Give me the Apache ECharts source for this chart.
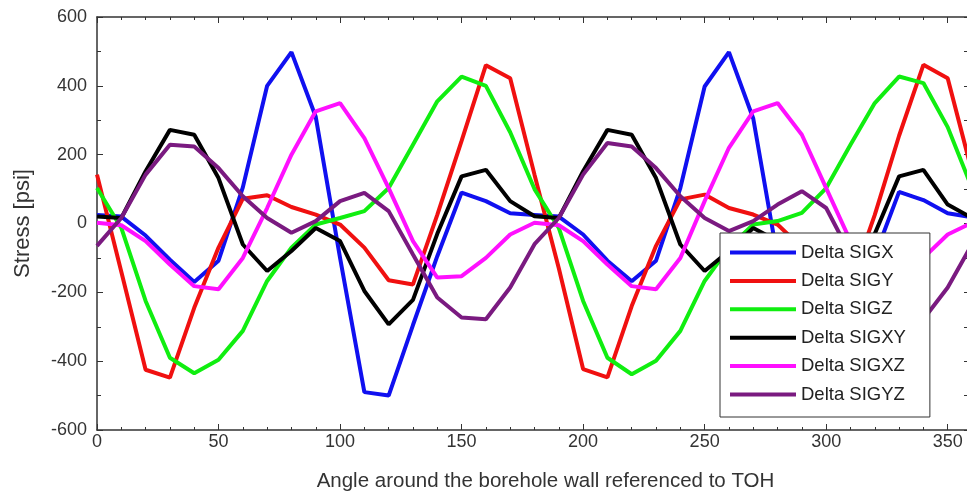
<!DOCTYPE html>
<html>
<head>
<meta charset="utf-8">
<script src="https://cdn.jsdelivr.net/npm/echarts@6/dist/echarts.min.js"></script>
<style>
	html, body { margin: 0; padding: 0; background: #fff; overflow: hidden; }
	/* a little wider than the window: the original plot is cut off at its right edge */
	#chart-1 { width: 975px; height: 497px; }
</style>
</head>
<body>
<div id="chart-1"></div>
<script>
	var angles = [0, 10, 20, 30, 40, 50, 60, 70, 80, 90, 100, 110, 120, 130, 140, 150, 160, 170, 180,
		190, 200, 210, 220, 230, 240, 250, 260, 270, 280, 290, 300, 310, 320, 330, 340, 350, 360];

	var sigx = [25, 20, -35, -105, -170, -108, 105, 400, 498, 310, -100, -490, -500, -295, -95, 90, 65, 30, 25,
		20, -32, -108, -168, -108, 103, 398, 498, 305, -100, -490, -500, -295, -95, 92, 68, 30, 18];
	var sigy = [142, -140, -425, -448, -245, -70, 72, 82, 48, 26, -3, -70, -165, -177, 25, 240, 460, 422, 142,
		-130, -423, -447, -240, -65, 70, 84, 45, 26, -3, -70, -165, -177, 25, 255, 461, 422, 150];
	var sigz = [103, -13, -225, -390, -435, -396, -312, -167, -70, -3, 16, 36, 103, 229, 355, 427, 400, 265, 100,
		-13, -225, -390, -438, -399, -312, -167, -70, -3, 7, 31, 103, 229, 350, 427, 408, 280, 103];
	var sigxy = [20, 16, 152, 272, 258, 132, -61, -138, -80, -13, -51, -196, -293, -222, -30, 137, 156, 65, 21,
		16, 152, 272, 258, 132, -61, -138, -80, -13, -51, -196, -293, -222, -30, 137, 156, 55, 16];
	var sigxz = [2, -5, -51, -119, -182, -191, -100, 45, 200, 326, 350, 248, 103, -51, -157, -153, -100, -32, 2,
		-5, -51, -119, -182, -191, -100, 65, 220, 326, 350, 258, 103, -51, -157, -153, -100, -32, 2];
	var sigyz = [-65, 16, 142, 229, 224, 161, 79, 16, -27, 7, 65, 89, 36, -90, -215, -273, -278, -186, -60,
		16, 142, 234, 224, 161, 79, 16, -22, 7, 55, 94, 45, -90, -215, -273, -278, -186, -60];

	var names = ['Delta SIGX', 'Delta SIGY', 'Delta SIGZ', 'Delta SIGXY', 'Delta SIGXZ', 'Delta SIGYZ'];
	var colors = ['#1010f0', '#f01010', '#10ee10', '#000000', '#ff10ff', '#7a1a80'];
	var values = [sigx, sigy, sigz, sigxy, sigxz, sigyz];

	var font = 'Liberation Sans';

	function pairs(vals) {
		return angles.map(function(a, i) { return [a, vals[i]]; });
	}

	var series = names.map(function(n, k) {
		return {
			name: n,
			type: 'line',
			data: pairs(values[k]),
			showSymbol: false,
			animation: false,
			lineStyle: { width: 4, color: colors[k] },
			itemStyle: { color: colors[k] }
		};
	});

	var frameLine = { show: true, onZero: false, lineStyle: { color: '#333', width: 1.5 } };

	var myChart = echarts.init(document.getElementById('chart-1'));
	var option = {
		backgroundColor: '#fff',
		animation: false,
		grid: { left: 97, right: 3, top: 17, bottom: 66 },
		legend: {
			orient: 'vertical',
			left: 720,
			top: 233,
			data: names,
			icon: 'rect',
			itemWidth: 66,
			itemHeight: 4,
			itemGap: 9.4,
			padding: [10, 24, 13, 10],
			backgroundColor: '#fff',
			borderColor: '#333',
			borderWidth: 1,
			borderRadius: 0,
			textStyle: { fontFamily: font, fontSize: 18.5, color: '#222', lineHeight: 19 }
		},
		xAxis: [{
			type: 'value',
			min: 0,
			max: 360,
			interval: 50,
			name: 'Angle around the borehole wall referenced to TOH',
			nameLocation: 'middle',
			nameGap: 41,
			nameTextStyle: { fontFamily: font, fontSize: 20.5, color: '#333', padding: [0, 0, 0, 22] },
			axisLine: frameLine,
			axisTick: { inside: true, length: 6, lineStyle: { color: '#333' } },
			minorTick: { show: true, splitNumber: 5, length: 3, lineStyle: { color: '#333' } },
			splitLine: { show: false },
			axisLabel: {
				fontFamily: font, fontSize: 18, color: '#333', margin: 3, showMaxLabel: false,
				formatter: function(v) { return v === 360 ? '' : v; }
			}
		}, {
			type: 'value',
			position: 'top',
			min: 0,
			max: 360,
			interval: 50,
			axisLine: frameLine,
			axisTick: { inside: true, length: 6, lineStyle: { color: '#333' } },
			minorTick: { show: true, splitNumber: 5, length: 3, lineStyle: { color: '#333' } },
			splitLine: { show: false },
			axisLabel: { show: false }
		}],
		yAxis: [{
			type: 'value',
			min: -600,
			max: 600,
			interval: 200,
			name: 'Stress [psi]',
			nameLocation: 'middle',
			nameGap: 63,
			nameTextStyle: { fontFamily: font, fontSize: 22, color: '#333' },
			axisLine: frameLine,
			axisTick: { inside: true, length: 6, lineStyle: { color: '#333' } },
			minorTick: { show: true, splitNumber: 2, length: 4, lineStyle: { color: '#333' } },
			splitLine: { show: false },
			axisLabel: { fontFamily: font, fontSize: 18, color: '#333', margin: 10 }
		}, {
			type: 'value',
			position: 'right',
			min: -600,
			max: 600,
			interval: 200,
			axisLine: frameLine,
			axisTick: { inside: true, length: 8, lineStyle: { color: '#333' } },
			minorTick: { show: true, splitNumber: 2, length: 8, lineStyle: { color: '#333' } },
			splitLine: { show: false },
			axisLabel: { show: false }
		}],
		series: series
	};

	myChart.setOption(option);
</script>
</body>
</html>
